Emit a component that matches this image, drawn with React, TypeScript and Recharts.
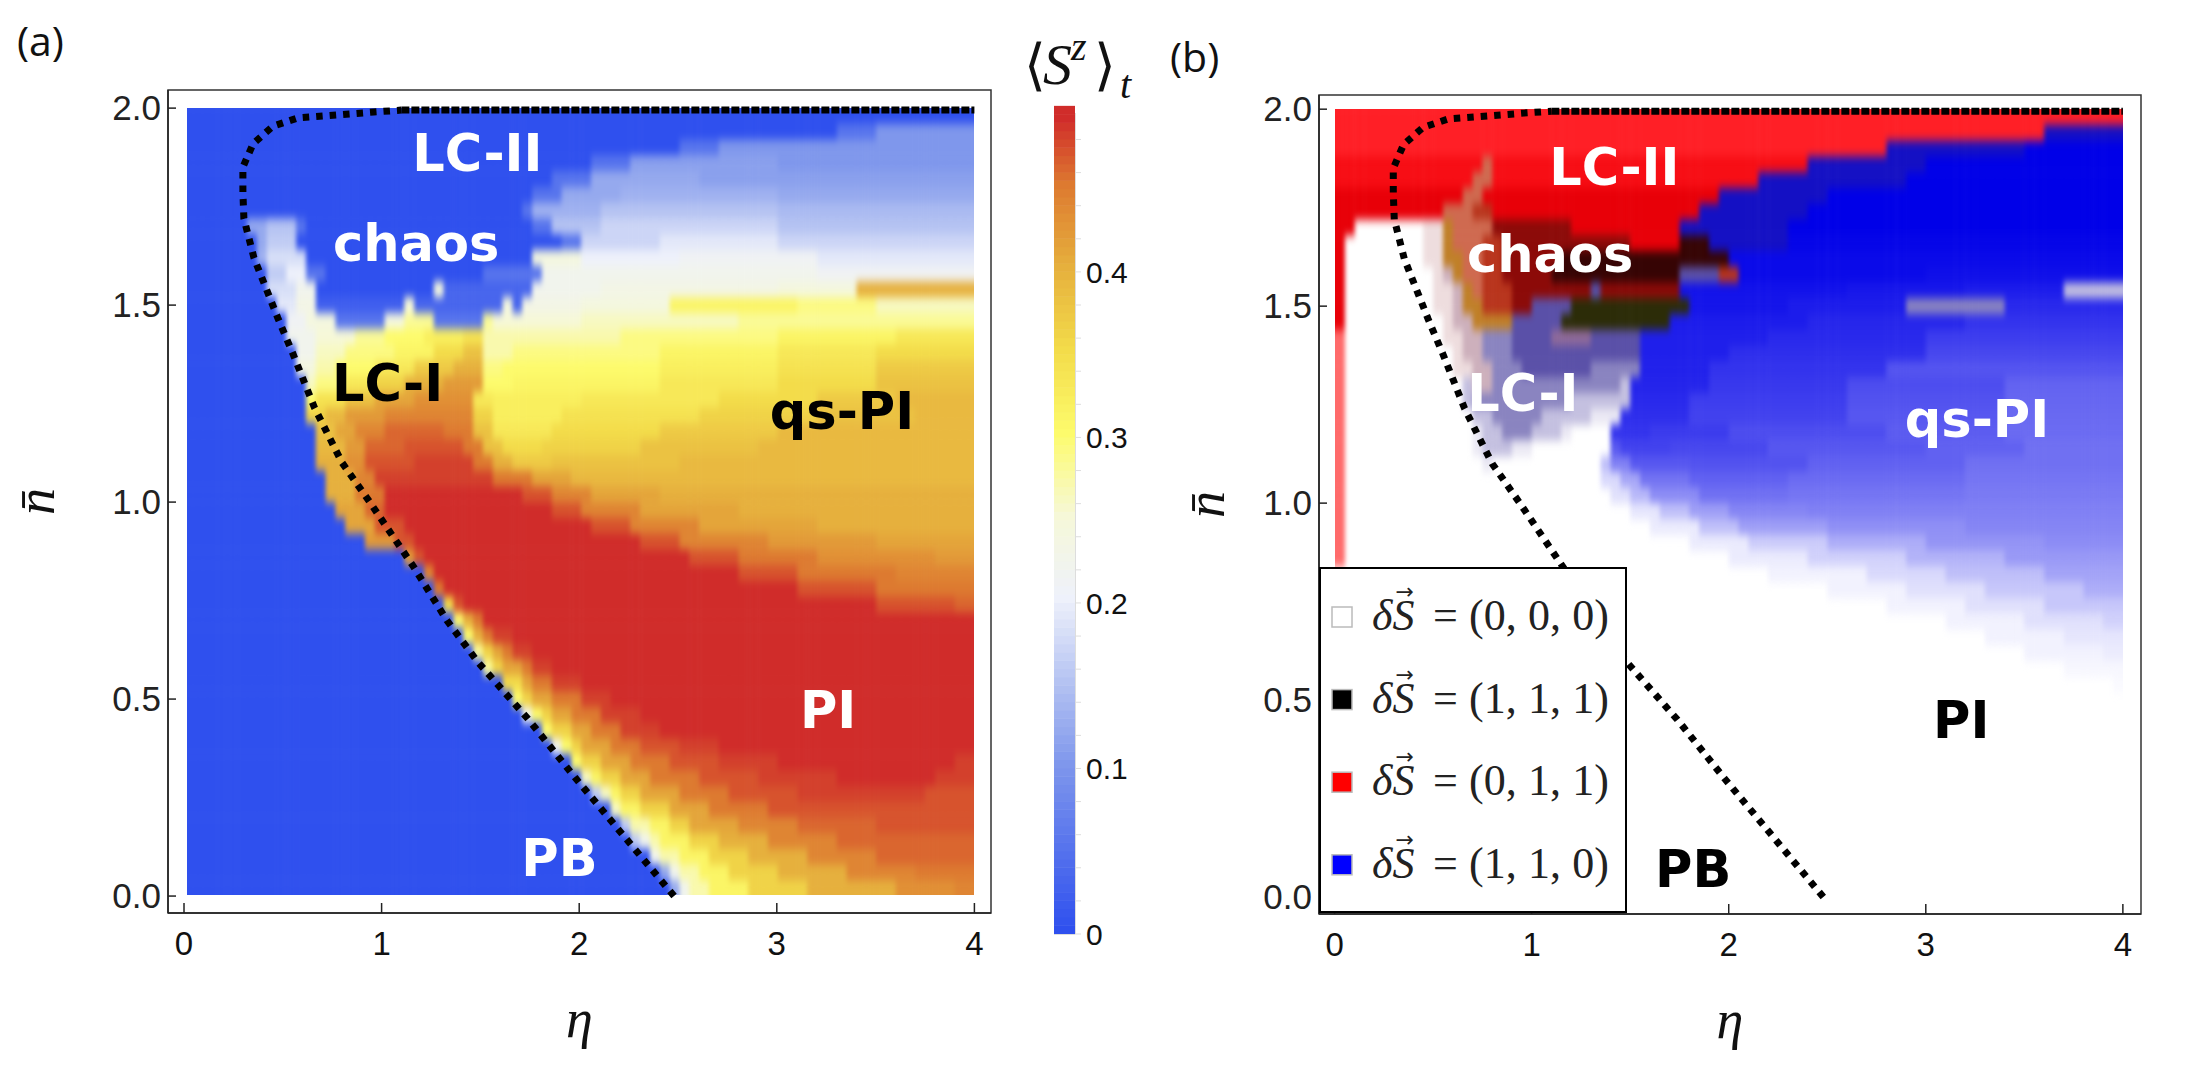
import { ScatterChart, Scatter, XAxis, YAxis, ReferenceArea, Legend } from 'recharts'

const ETA_TICKS = [0, 1, 2, 3, 4]
const N_TICKS = [0, 0.5, 1, 1.5, 2]

// dotted PB boundary, same curve in both panels
const boundaryEta = [2.48, 2.23, 1.98, 1.74, 1.487, 1.33, 1.163, 0.94, 0.8, 0.66, 0.55, 0.475, 0.354, 0.303, 0.298, 0.298, 0.35, 0.45, 0.576, 0.708, 0.96, 1.1]
const boundaryN = [0, 0.15, 0.3, 0.45, 0.594, 0.7, 0.835, 1.0, 1.1, 1.24, 1.378, 1.467, 1.62, 1.72, 1.787, 1.85, 1.91, 1.954, 1.975, 1.98, 1.99, 1.995]
// the flat part along the top, where the dots crowd together
const topEdgeEta = [1.1, 2, 3, 4]
const topEdgeN = [1.995, 1.995, 1.995, 1.995]

// <S^z>_t per row, top (n=1.98) to bottom (n=0.02), 0.04 apart.
// "vv:e" = value vv/100 up to eta e
const rowsA = [
  '00:4',
  '00:3.3 05:3.5 10:4',
  '00:2.5 05:2.72 10:4',
  '00:2.05 05:2.28 11:3 10:4',
  '00:1.88 05:2.04 12:2.6 11:4',
  '00:1.75 05:1.9 12:2.2 13:3 12:4',
  '00:1.7 05:1.78 13:2.1 15:3 14:4',
  '00:.33 12:.42 15:.56 05:.62 00:1.78 05:1.85 15:2.1 17:3 15:4',
  '00:.36 12:.44 16:.56 00:1.9 05:2.02 17:2.4 19:3 17:4',
  '00:.37 13:.44 18:.6 00:1.78 24:2 20:2.5 21:3.2 19:4',
  '00:.4 16:.5 20:.62 05:.7 00:1.5 05:1.8 22:2.3 22:3.2 21:4',
  '00:.43 18:.55 22:.66 00:1.28 24:1.32 03:1.78 22:2.1 23:3 24:3.4 40:4',
  '00:.48 19:.55 23:.68 02:1.12 25:1.18 03:1.6 24:1.66 03:1.72 23:2 24:2.45 31:3.1 29:3.5 26:4',
  '00:.5 21:.62 24:.78 05:1 24:1.1 28:1.25 05:1.5 28:1.55 25:2 26:2.8 28:4',
  '00:.53 22:.65 25:.85 28:1 30:1.2 32:1.4 34:1.52 27:1.6 27:2.2 29:3 31:3.6 33:4',
  '00:.55 22:.65 26:.8 29:1.05 31:1.25 35:1.4 38:1.52 27:1.65 29:2.4 31:3 33:3.5 35:4',
  '00:.58 24:.66 27:.78 30:.95 33:1.15 37:1.35 40:1.53 29:1.62 30:2.4 32:3 34:3.5 37:4',
  '00:.61 26:.68 29:.8 33:.95 36:1.1 40:1.3 42:1.53 30:1.64 31:2.4 33:3 35:3.5 38:4',
  '00:.63 30:.68 34:.8 38:.95 41:1.15 43:1.48 33:1.56 32:2 33:2.7 35:3.2 37:3.6 39:4',
  '00:.63 36:.72 39:.82 42:1 44:1.47 36:1.55 32:1.9 34:2.6 36:3.2 38:3.7 39:4',
  '00:.65 38:.78 41:.88 44:1.02 46:1.3 45:1.48 38:1.55 33:1.85 35:2.4 37:3 39:4',
  '00:.67 39:.8 42:.92 46:1.1 47:1.42 45:1.5 38:1.6 35:1.8 36:2.3 38:2.9 39:4',
  '00:.69 40:.82 43:.92 47:1.15 48:1.45 45:1.55 40:1.65 37:1.85 38:2.5 39:4',
  '00:.71 40:.85 44:.95 48:1.55 45:1.75 41:1.95 39:2.4 39:4',
  '00:.73 40:.88 45:1 49:1.7 47:1.85 44:2.05 41:2.4 40:4',
  '00:.77 41:.92 46:1.02 49:1.85 47:2 44:2.3 41:2.8 40:4',
  '00:.83 41:.98 47:1.1 49:2.05 47:2.25 44:2.6 41:3.2 40:4',
  '00:.93 42:1.04 47:1.15 49:2.3 47:2.5 44:2.95 42:3.5 41:4',
  '00:1.12 42:1.16 47:1.22 49:2.55 47:2.8 45:3.2 43:3.8 42:4',
  '00:1.19 44:1.24 49:2.8 47:3.1 45:3.6 44:4',
  '00:1.25 40:1.28 45:1.32 49:3.1 47:3.5 45:4',
  '00:1.3 35:1.34 43:1.38 47:1.42 49:3.5 47:3.9 46:4',
  '00:1.36 30:1.39 40:1.44 45:1.5 49:4',
  '00:1.42 30:1.45 40:1.5 45:1.57 48:1.65 49:4',
  '00:1.47 28:1.5 36:1.55 41:1.61 45:1.68 48:1.78 49:4',
  '00:1.53 28:1.56 36:1.62 41:1.7 45:1.78 48:1.88 49:4',
  '00:1.6 27:1.63 35:1.69 41:1.78 45:1.88 48:2 49:4',
  '00:1.66 22:1.68 30:1.72 36:1.78 41:1.88 45:2 48:2.15 49:4',
  '00:1.73 22:1.75 30:1.79 36:1.86 41:1.96 45:2.1 48:2.3 49:4',
  '00:1.8 22:1.83 30:1.87 36:1.94 41:2.04 45:2.2 48:2.42 49:4',
  '00:1.87 22:1.9 30:1.95 36:2.03 41:2.15 45:2.33 47:2.5 48:2.7 49:4',
  '00:1.94 22:1.97 30:2.03 36:2.12 41:2.25 45:2.46 47:2.7 48:3 49:3.9 48:4',
  '00:2 16:2.03 26:2.07 31:2.13 36:2.23 41:2.38 45:2.62 47:2.9 48:3.3 49:3.8 48:4',
  '00:2.07 16:2.1 26:2.15 31:2.22 36:2.33 41:2.5 45:2.78 47:3.1 48:3.75 47:4',
  '00:2.14 16:2.17 26:2.23 31:2.32 36:2.45 41:2.64 45:2.98 47:4',
  '00:2.21 16:2.24 22:2.28 27:2.34 31:2.44 36:2.57 41:2.8 44:3.1 46:3.5 47:4',
  '00:2.28 16:2.31 22:2.35 27:2.42 31:2.55 36:2.7 40:2.96 44:3.3 46:4',
  '00:2.34 12:2.37 22:2.43 27:2.5 31:2.65 36:2.84 40:3.15 44:3.5 46:4',
  '00:2.41 12:2.45 22:2.5 27:2.6 31:2.78 36:3 40:3.35 44:3.7 45:4',
  '00:2.48 12:2.52 22:2.58 27:2.68 31:2.88 36:3.14 40:3.6 43:3.9 44:4',
]

// dynamical class per row, same layout as rowsA. A letter names a colour in CLASS_COLORS,
// bNN is the (1,1,0) blue washed NN% towards white
const rowsB = [
  'r:4',
  'r:3.6 0:4',
  'r:.84 s:.87 r:2.78 0:3.5 b0:4',
  'R:.76 s:.8 R:2.42 0:3 b0:4',
  'R:.72 s:.78 R:2.14 0:2.9 b0:4',
  'e:.66 s:.76 e:1.93 0:2.5 b0:4',
  'e:.56 s:.72 m:.78 e:1.86 0:2.4 b0:4',
  'e:.08 w:.43 t:.54 o:.6 s:.78 d:1.2 e:1.74 0:2.3 b0:4',
  'e:.06 w:.44 t:.54 o:.61 s:.74 m:.84 d:1.5 e:1.75 k:1.92 0:2.3 b2:4',
  'e:.05 w:.46 t:.55 o:.63 s:.73 m:.84 d:1.15 k:2 b4:4',
  'e:.05 w:.48 t:.56 p:.6 o:.66 s:.73 m:.85 d:1.1 k:1.75 v:1.95 m:2.05 b4:3 b6:4',
  'e:.05 w:.5 t:.58 p:.64 o:.7 s:.76 m:.88 d:1.28 v:1.34 d:1.76 b7:2.6 b9:3.2 b11:3.7 l:4',
  'e:.05 w:.52 t:.6 p:.67 o:.76 m:.9 d:1 v:1.18 g:1.78 b8:2.3 b11:2.9 u:3.4 b16:4',
  'e:.05 w:.55 t:.62 p:.68 o:.89 v:1.17 g:1.7 b11:2.4 b15:3.2 b20:4',
  'f:.05 w:.57 t:.64 p:.76 u:.88 v:1.1 P:1.3 v:1.56 b12:2.2 b16:3 b24:4',
  'f:.05 w:.6 t:.66 p:.76 u:.9 v:1.56 b12:2 b18:3 b28:4',
  'f:.05 w:.62 t:.68 p:.8 u:.95 v:1.3 u:1.53 b13:1.9 b20:2.8 b33:4',
  'f:.05 w:.64 l:.7 p:.78 u:1.45 l:1.5 b14:1.9 b22:2.6 b30:3.4 b39:4',
  'f:.05 w:.66 l:.72 u:1.2 l:1.49 b16:1.8 b24:2.6 b32:3.4 b40:4',
  'f:.05 w:.68 x:.72 l:.82 u:1.05 l:1.3 x:1.46 b18:1.8 b26:2.6 b34:3.4 b41:4',
  'f:.05 w:.7 x:.74 l:.85 u:1 l:1.15 x:1.22 w:1.42 b20:1.6 b23:2 b30:2.8 b36:3.4 b42:4',
  'f:.05 w:.72 x:.76 l:.9 x:.98 w:1.39 b35:1.45 b26:1.7 b28:2.2 b34:3 b38:3.5 b44:4',
  'f:.05 w:.76 x:.8 w:1.35 b75:1.4 b50:1.5 b34:1.8 b32:2.4 b38:3.2 b44:4',
  'f:.05 w:1.37 b85:1.43 b65:1.55 b45:1.8 b38:2.3 b42:3.2 b46:4',
  'f:.05 w:1.42 b88:1.5 b72:1.6 b55:1.85 b44:2.3 b46:3.2 b48:4',
  'f:.05 w:1.5 b90:1.65 b75:1.8 b62:2 b52:2.4 b50:4',
  'f:.05 w:1.6 b92:1.85 b75:2.05 b62:2.5 b56:3.2 b52:4',
  'f:.05 w:1.8 b92:2.1 b80:2.5 b68:3 b58:3.6 b55:4',
  'f:.05 w:2 b92:2.4 b82:2.9 b70:3.4 b60:4',
  'w:2.2 b95:2.7 b85:3.1 b75:3.6 b64:4',
  'w:2.5 b95:2.9 b88:3.3 b78:3.8 b68:4',
  'w:2.8 b95:3.2 b88:3.6 b78:4',
  'w:3.1 b95:3.5 b88:3.9 b82:4',
  'w:3.3 b95:3.7 b90:4',
  'w:3.5 b95:3.9 b92:4',
  'w:3.7 b97:4',
  'w:3.95 b98:4',
  'w:4', 'w:4', 'w:4', 'w:4', 'w:4', 'w:4', 'w:4', 'w:4', 'w:4', 'w:4', 'w:4', 'w:4', 'w:4',
]

// region names as [eta, n, text]
const whiteLabelsA: [number, number, string][] = [[1.485, 1.888, 'LC-II'], [1.175, 1.66, 'chaos'], [3.26, 0.475, 'PI'], [1.9, 0.099, 'PB']]
const blackLabelsA: [number, number, string][] = [[1.03, 1.304, 'LC-I'], [3.33, 1.234, 'qs-PI']]
const whiteLabelsB: [number, number, string][] = [[1.42, 1.855, 'LC-II'], [1.094, 1.634, 'chaos'], [0.956, 1.282, 'LC-I'], [3.26, 1.216, 'qs-PI']]
const blackLabelsB: [number, number, string][] = [[3.18, 0.451, 'PI'], [1.82, 0.074, 'PB']]

const colorbarValues = [
  0, 0.005, 0.01, 0.015, 0.02, 0.025, 0.03, 0.035, 0.04, 0.045, 0.05, 0.055, 0.06, 0.065, 0.07, 0.075, 0.08, 0.085, 0.09, 0.095,
  0.1, 0.105, 0.11, 0.115, 0.12, 0.125, 0.13, 0.135, 0.14, 0.145, 0.15, 0.155, 0.16, 0.165, 0.17, 0.175, 0.18, 0.185, 0.19, 0.195,
  0.2, 0.205, 0.21, 0.215, 0.22, 0.225, 0.23, 0.235, 0.24, 0.245, 0.25, 0.255, 0.26, 0.265, 0.27, 0.275, 0.28, 0.285, 0.29, 0.295,
  0.3, 0.305, 0.31, 0.315, 0.32, 0.325, 0.33, 0.335, 0.34, 0.345, 0.35, 0.355, 0.36, 0.365, 0.37, 0.375, 0.38, 0.385, 0.39, 0.395,
  0.4, 0.405, 0.41, 0.415, 0.42, 0.425, 0.43, 0.435, 0.44, 0.445, 0.45, 0.455, 0.46, 0.465, 0.47, 0.475, 0.48, 0.485, 0.49, 0.495,
]
const colorbarTicks = [0, 0.02, 0.04, 0.06, 0.08, 0.1, 0.12, 0.14, 0.16, 0.18, 0.2, 0.22, 0.24, 0.26, 0.28, 0.3, 0.32, 0.34, 0.36, 0.38, 0.4, 0.42, 0.44, 0.46, 0.48]

const legendStates = ['(0, 0, 0)', '(1, 1, 1)', '(0, 1, 1)', '(1, 1, 0)']
const LEGEND_SWATCHES = ['#fff', '#000', '#ff0000', '#0000ff']

const CLASS_COLORS: Record<string, string> = {
  w: '#ffffff', r: '#ff1f26', R: '#f70d14', e: '#e80008', f: '#ff6a6a', '0': '#1410c4',
  d: '#8c0a08', k: '#360404', g: '#2c2c08', s: '#cf6a50', m: '#b8341c', o: '#c08028', t: '#eeddde', p: '#cdb0bc', P: '#8f6a9a',
  v: '#5a50a8', u: '#8a84c0', l: '#c4c0e0', x: '#ebe9f4',
}

const COLOR_STOPS: [number, number[]][] = [
  [0, [47, 80, 238]], [0.1, [127, 151, 236]], [0.15, [181, 195, 242]], [0.2, [238, 241, 251]], [0.25, [246, 248, 216]],
  [0.3, [253, 251, 108]], [0.35, [243, 220, 74]], [0.4, [230, 176, 61]], [0.45, [221, 122, 48]], [0.49, [208, 44, 42]],
]

function szColor(v: number) {
  for (let i = 1; i < COLOR_STOPS.length; i++) {
    const [v1, c1] = COLOR_STOPS[i]
    if (v <= v1) {
      const [v0, c0] = COLOR_STOPS[i - 1]
      const f = (v - v0) / (v1 - v0)
      return `rgb(${c0.map((c, k) => Math.round(c + (c1[k] - c) * f)).join(',')})`
    }
  }
  return 'rgb(208,44,42)'
}

function classColor(code: string) {
  if (code[0] === 'b') {
    const p = Number(code.slice(1)) / 100
    return `rgb(${Math.round(255 * p)},${Math.round(255 * p)},${Math.round(232 + 23 * p)})`
  }
  return CLASS_COLORS[code]
}

// expand the run lists into 0.05 x 0.04 cells, two spare rings outside so the soft edge can be clipped off
function expandRows(rows: string[], etaStart: number, colorOf: (code: string) => string) {
  const cells: { x: number; y: number; fill: string }[] = []
  const cols = 80
  const dx = (4 - etaStart) / cols
  for (let j = -2; j < rows.length + 2; j++) {
    const row = rows[Math.min(Math.max(j, 0), rows.length - 1)]
    const runs = row.split(' ').map((t) => t.split(':'))
    const y = 2 - (j + 0.5) * 0.04
    for (let i = -2; i < cols + 2; i++) {
      const x = etaStart + (i + 0.5) * dx
      const run = runs.find((r) => x <= Number(r[1])) ?? runs[runs.length - 1]
      if (run[0] !== 'w') cells.push({ x, y, fill: colorOf(run[0]) })
    }
  }
  return cells
}

const boundary = boundaryEta.map((x, i) => ({ x, y: boundaryN[i] }))
const topEdge = topEdgeEta.map((x, i) => ({ x, y: topEdgeN[i] }))
const toPoints = (items: [number, number, string][]) => items.map(([x, y, text]) => ({ x, y, text }))

const tickFont = '"Liberation Sans", sans-serif'
const mathFont = '"Liberation Serif", serif'

function EtaTick({ x, y, payload }: any) {
  return (
    <g>
      <line x1={x} x2={x} y1={y} y2={y - 10} stroke="#222" strokeWidth={1.5} />
      <text x={x} y={y + 42} textAnchor="middle" fontFamily={tickFont} fontSize={33} fill="#111">{payload.value}</text>
    </g>
  )
}

function NTick({ x, y, payload }: any) {
  return (
    <g>
      <line x1={x} x2={x + 8} y1={y} y2={y} stroke="#222" strokeWidth={1.5} />
      <text x={x - 7} y={y + 12} textAnchor="end" fontFamily={tickFont} fontSize={35} fill="#222">{payload.value.toFixed(1)}</text>
    </g>
  )
}

function ColorbarTick({ x, y, payload }: any) {
  const major = Math.round(payload.value * 100) % 10 === 0
  return (
    <g>
      <line x1={x} x2={x + 6} y1={y} y2={y} stroke="#ddd" strokeWidth={1} />
      {major && (
        <text x={x + 11} y={y + 11} fontFamily={tickFont} fontSize={30} fill="#111">{payload.value}</text>
      )}
    </g>
  )
}

function RegionLabel({ cx, cy, payload, fill }: any) {
  return (
    <text x={cx} y={cy + 19} textAnchor="middle" fontFamily='"DejaVu Sans", sans-serif' fontWeight="bold" fontSize={51} fill={fill}>
      {payload.text}
    </text>
  )
}

function DeltaLegend() {
  return (
    <svg width={308} height={346} style={{ display: 'block' }}>
      <rect x={1} y={1} width={306} height={344} fill="#fff" stroke="#000" strokeWidth={2} />
      {legendStates.map((state, i) => {
        const base = 63 + i * 82.6
        return (
          <g key={state} fontFamily={mathFont} fontSize={44} fill="#222">
            <rect x={13} y={base - 23} width={20} height={20} fill={LEGEND_SWATCHES[i]} stroke="#bbb" strokeWidth={1.5} />
            <text x={53} y={base} fontStyle="italic">
              δS
              <tspan dx={-19} dy={-31} fontStyle="normal" fontFamily='"DejaVu Sans", sans-serif' fontSize={22}>→</tspan>
            </text>
            <text x={114} y={base} textLength={176}>= {state}</text>
          </g>
        )
      })}
    </svg>
  )
}

interface PanelProps {
  left: number
  top: number
  width: number
  height: number
  axisWidth: number
  xDomain: [number, number]
  yDomain: [number, number]
  cells: { x: number; y: number; fill: string }[]
  heatClass: string
  white: [number, number, string][]
  black: [number, number, string][]
  nLabelX: number
  withLegend?: boolean
}

const CELL_W = 9.85
const CELL_H = 15.76

function Panel({ left, top, width, height, axisWidth, xDomain, yDomain, cells, heatClass, white, black, nLabelX, withLegend }: PanelProps) {
  return (
    <div style={{ position: 'absolute', left, top }}>
      <ScatterChart width={width} height={height} margin={{ top: 10, right: 10, bottom: 0, left: 0 }}>
        <XAxis
          type="number"
          dataKey="x"
          domain={xDomain}
          ticks={ETA_TICKS}
          interval={0}
          height={150}
          tickLine={false}
          tickSize={0}
          tickMargin={0}
          tick={<EtaTick />}
          axisLine={{ stroke: '#222', strokeWidth: 1.5 }}
          label={{ value: 'η', position: 'insideBottom', offset: 26, style: { fontFamily: mathFont, fontStyle: 'italic', fontSize: 54, fill: '#111' } }}
          allowDataOverflow
        />
        <YAxis
          type="number"
          dataKey="y"
          domain={yDomain}
          ticks={N_TICKS}
          interval={0}
          width={axisWidth}
          tickLine={false}
          tickSize={0}
          tickMargin={0}
          tick={<NTick />}
          axisLine={{ stroke: '#222', strokeWidth: 1.5 }}
          label={{
            content: ({ viewBox }: any) => {
              const cy = viewBox.y + viewBox.height / 2
              return (
                <text
                  x={nLabelX}
                  y={cy}
                  transform={`rotate(-90 ${nLabelX} ${cy})`}
                  textAnchor="middle"
                  fontFamily={mathFont}
                  fontStyle="italic"
                  fontSize={54}
                  fill="#111"
                >
                  n̄
                </text>
              )
            },
          }}
          allowDataOverflow
        />
        <ReferenceArea x1={xDomain[0]} x2={xDomain[1]} y1={yDomain[0]} y2={yDomain[1]} fill="none" stroke="#333" strokeWidth={1.5} ifOverflow="visible" />
        <Scatter
          className={heatClass}
          data={cells}
          isAnimationActive={false}
          shape={({ cx, cy, payload }: any) => (
            <rect x={cx - CELL_W / 2} y={cy - CELL_H / 2} width={CELL_W + 0.5} height={CELL_H + 0.5} fill={payload.fill} />
          )}
        />
        <Scatter
          data={boundary}
          isAnimationActive={false}
          line={{ stroke: '#000', strokeWidth: 7, strokeDasharray: '6.5 7' }}
          shape={() => <g />}
        />
        <Scatter
          data={topEdge}
          isAnimationActive={false}
          line={{ stroke: '#000', strokeWidth: 7, strokeDasharray: '8 2' }}
          shape={() => <g />}
        />
        <Scatter data={toPoints(white)} isAnimationActive={false} shape={(p: any) => <RegionLabel {...p} fill="#fff" />} />
        <Scatter data={toPoints(black)} isAnimationActive={false} shape={(p: any) => <RegionLabel {...p} fill="#000" />} />
        {withLegend && (
          <Legend
            layout="vertical"
            align="center"
            verticalAlign="middle"
            content={<DeltaLegend />}
            wrapperStyle={{ position: 'absolute', left: 169, top: 482, width: 308, height: 346, margin: 0, padding: 0 }}
          />
        )}
      </ScatterChart>
    </div>
  )
}

function Colorbar() {
  const data = colorbarValues.map((v) => ({ x: 0.5, y: v }))
  return (
    <div style={{ position: 'absolute', left: 1054, top: 103 }}>
      <ScatterChart width={90} height={871} margin={{ top: 10, right: 0, bottom: 40, left: 0 }}>
        <XAxis type="number" dataKey="x" domain={[0, 1]} hide />
        <YAxis
          type="number"
          dataKey="y"
          orientation="right"
          domain={[0, 0.496]}
          ticks={colorbarTicks}
          interval={0}
          width={69}
          tickLine={false}
          tickSize={0}
          tickMargin={0}
          axisLine={false}
          tick={<ColorbarTick />}
        />
        <Scatter
          data={data}
          isAnimationActive={false}
          shape={({ cy, payload }: any) => <rect x={0} y={cy - 8.8} width={21} height={8.8} fill={szColor(payload.y)} />}
        />
        <ReferenceArea x1={0} x2={1} y1={0} y2={0.496} fill="none" stroke="#bbb" strokeWidth={1} />
      </ScatterChart>
    </div>
  )
}

const cellsA = expandRows(rowsA, 0.02, (code) => szColor(Number(code) / 100))
const cellsB = expandRows(rowsB, 0, classColor)

export default function App() {
  return (
    <div style={{ position: 'absolute', left: 0, top: 0, width: 2201, height: 1076, background: '#fff', overflow: 'hidden' }}>
      <style>{`
        .heat-a { filter: url(#heatBlur); clip-path: url(#heatClipA); }
        .heat-b { filter: url(#heatBlur); clip-path: url(#heatClipB); }
      `}</style>
      <svg width={0} height={0} style={{ position: 'absolute' }}>
        <defs>
          <filter id="heatBlur" x="-5%" y="-5%" width="110%" height="110%" colorInterpolationFilters="sRGB">
            <feGaussianBlur stdDeviation="2 5" />
          </filter>
          <clipPath id="heatClipA" clipPathUnits="userSpaceOnUse">
            <rect x={187} y={28} width={787} height={787} />
          </clipPath>
          <clipPath id="heatClipB" clipPathUnits="userSpaceOnUse">
            <rect x={185} y={24} width={788} height={788} />
          </clipPath>
        </defs>
      </svg>
      <Panel
        left={0}
        top={80}
        width={1001}
        height={983}
        axisWidth={168}
        xDomain={[-0.081, 4.084]}
        yDomain={[-0.043, 2.046]}
        cells={cellsA}
        heatClass="heat-a"
        white={whiteLabelsA}
        black={blackLabelsA}
        nLabelX={54}
      />
      <Colorbar />
      <Panel
        left={1150}
        top={85}
        width={1001}
        height={979}
        axisWidth={169}
        xDomain={[-0.079, 4.092]}
        yDomain={[-0.043, 2.036]}
        cells={cellsB}
        heatClass="heat-b"
        white={whiteLabelsB}
        black={blackLabelsB}
        nLabelX={74}
        withLegend
      />
      <svg width={2201} height={110} style={{ position: 'absolute', left: 0, top: 0, pointerEvents: 'none' }}>
        <text x={17} y={56} fontFamily='"Open Sans", sans-serif' fontSize={41} fill="#111">(a)</text>
        <text x={1170} y={72} fontFamily='"Open Sans", sans-serif' fontSize={41} fill="#111">(b)</text>
        <g fontFamily={mathFont} fill="#111">
          <text x={1024} y={84} fontFamily='"DejaVu Sans", sans-serif' fontSize={56} fontWeight={200}>⟨</text>
          <text x={1043} y={84} fontStyle="italic" fontSize={58}>S</text>
          <text x={1071} y={60} fontStyle="italic" fontSize={40}>z</text>
          <text x={1094} y={84} fontFamily='"DejaVu Sans", sans-serif' fontSize={56} fontWeight={200}>⟩</text>
          <text x={1120} y={98} fontStyle="italic" fontSize={40}>t</text>
        </g>
      </svg>
    </div>
  )
}
